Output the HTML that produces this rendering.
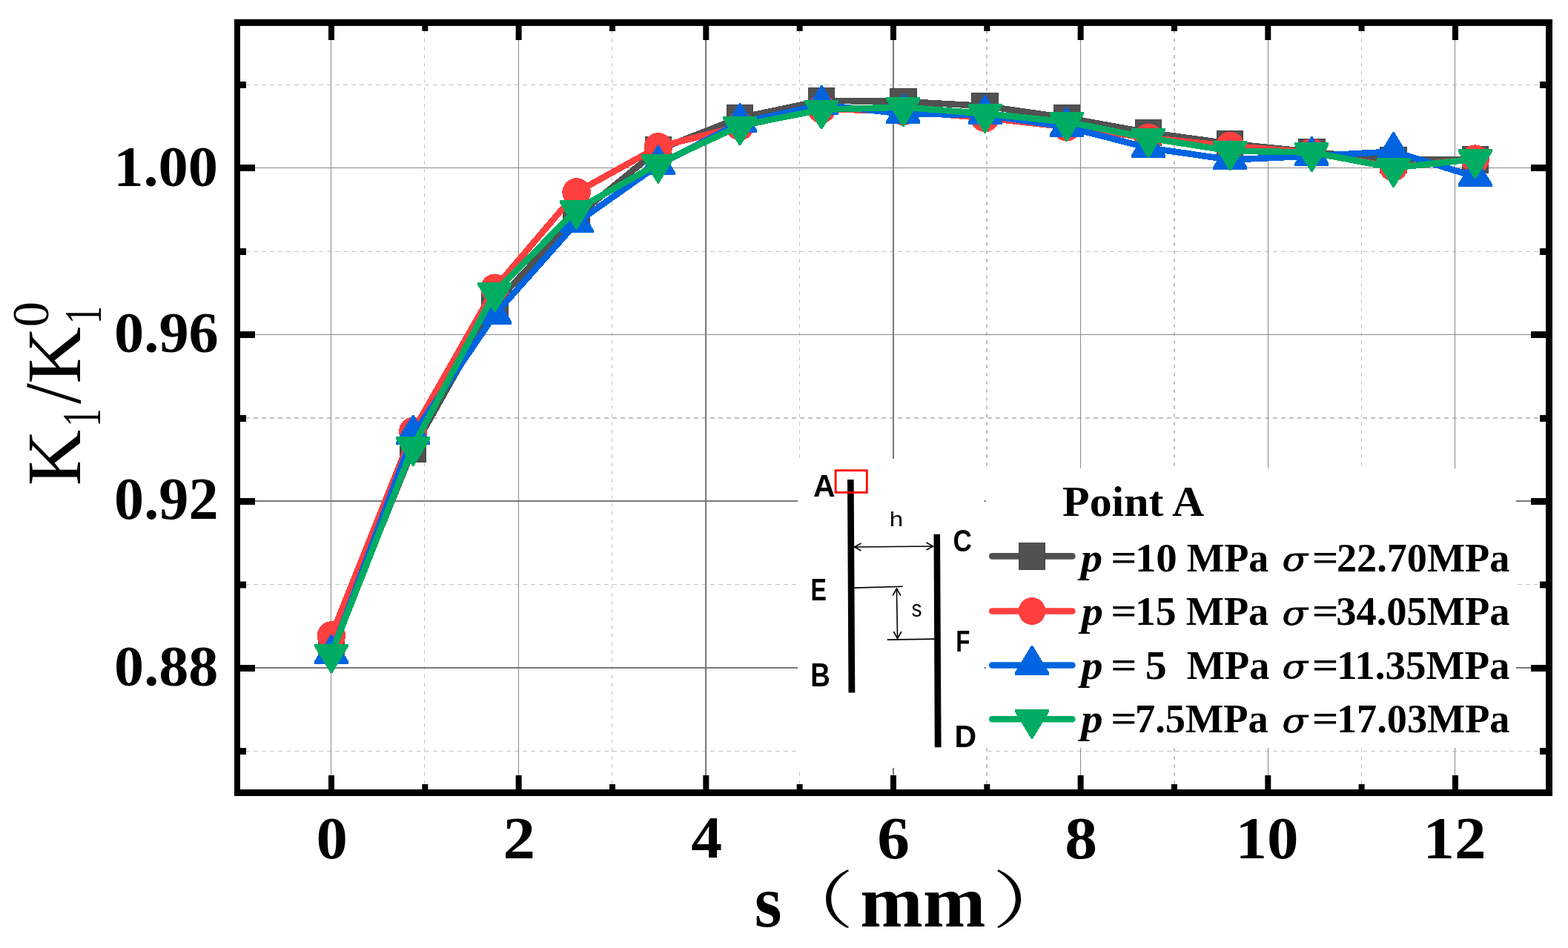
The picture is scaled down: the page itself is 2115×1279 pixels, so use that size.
<!DOCTYPE html>
<html><head><meta charset="utf-8"><title>K1/K1^0 vs s</title>
<style>html,body{margin:0;padding:0;background:#fff;overflow:hidden}svg{display:block}</style>
</head><body>
<svg width="2115" height="1279" viewBox="0 0 2115 1279">
<rect width="2115" height="1279" fill="#fff"/>
<line x1="572.5" y1="30.15" x2="572.5" y2="1065" stroke="#c0c0c0" stroke-width="1" stroke-dasharray="4.7 6.3"/>
<line x1="825.5" y1="30.15" x2="825.5" y2="1065" stroke="#c0c0c0" stroke-width="1" stroke-dasharray="4.7 6.3"/>
<line x1="1078.5" y1="30.15" x2="1078.5" y2="1065" stroke="#c0c0c0" stroke-width="1" stroke-dasharray="4.7 6.3"/>
<line x1="1331" y1="30.15" x2="1331" y2="1065" stroke="#c0c0c0" stroke-width="2" stroke-dasharray="4.7 6.3"/>
<line x1="1584" y1="30.15" x2="1584" y2="1065" stroke="#c0c0c0" stroke-width="2" stroke-dasharray="4.7 6.3"/>
<line x1="1836.5" y1="30.15" x2="1836.5" y2="1065" stroke="#c0c0c0" stroke-width="1" stroke-dasharray="4.7 6.3"/>
<line x1="320.1" y1="114.5" x2="2085" y2="114.5" stroke="#c0c0c0" stroke-width="1" stroke-dasharray="5.8 5.2"/>
<line x1="320.1" y1="339.5" x2="2085" y2="339.5" stroke="#c0c0c0" stroke-width="1" stroke-dasharray="5.8 5.2"/>
<line x1="320.1" y1="564" x2="2085" y2="564" stroke="#c0c0c0" stroke-width="2" stroke-dasharray="5.8 5.2"/>
<line x1="320.1" y1="788.5" x2="2085" y2="788.5" stroke="#c0c0c0" stroke-width="1" stroke-dasharray="5.8 5.2"/>
<line x1="320.1" y1="1013.5" x2="2085" y2="1013.5" stroke="#c0c0c0" stroke-width="1" stroke-dasharray="5.8 5.2"/>
<line x1="446.5" y1="35" x2="446.5" y2="1065" stroke="#888" stroke-width="1"/>
<line x1="699.5" y1="35" x2="699.5" y2="1065" stroke="#888" stroke-width="1"/>
<line x1="952" y1="35" x2="952" y2="1065" stroke="#787878" stroke-width="2"/>
<line x1="1205" y1="35" x2="1205" y2="1065" stroke="#787878" stroke-width="2"/>
<line x1="1457.5" y1="35" x2="1457.5" y2="1065" stroke="#888" stroke-width="1"/>
<line x1="1710.5" y1="35" x2="1710.5" y2="1065" stroke="#888" stroke-width="1"/>
<line x1="1962.5" y1="35" x2="1962.5" y2="1065" stroke="#888" stroke-width="1"/>
<line x1="324" y1="226.5" x2="2085" y2="226.5" stroke="#888" stroke-width="1"/>
<line x1="324" y1="451.5" x2="2085" y2="451.5" stroke="#888" stroke-width="1"/>
<line x1="324" y1="676" x2="2085" y2="676" stroke="#787878" stroke-width="2"/>
<line x1="324" y1="901" x2="2085" y2="901" stroke="#787878" stroke-width="2"/>
<polyline points="447.00,877.00 557.20,605.80 667.40,410.00 777.60,292.00 887.80,202.00 998.00,158.90 1108.20,135.75 1218.40,137.00 1328.60,143.00 1438.80,158.90 1549.00,178.90 1659.20,193.80 1769.40,204.90 1879.60,215.75 1989.80,215.40" fill="none" stroke="#515151" stroke-width="8.6" stroke-linejoin="round" stroke-linecap="round" shape-rendering="crispEdges"/>
<rect x="429.25" y="859.25" width="35.50" height="35.50" fill="#515151" stroke="#454545" stroke-width="1" shape-rendering="crispEdges"/>
<rect x="539.45" y="588.05" width="35.50" height="35.50" fill="#515151" stroke="#454545" stroke-width="1" shape-rendering="crispEdges"/>
<rect x="649.65" y="392.25" width="35.50" height="35.50" fill="#515151" stroke="#454545" stroke-width="1" shape-rendering="crispEdges"/>
<rect x="759.85" y="274.25" width="35.50" height="35.50" fill="#515151" stroke="#454545" stroke-width="1" shape-rendering="crispEdges"/>
<rect x="870.05" y="184.25" width="35.50" height="35.50" fill="#515151" stroke="#454545" stroke-width="1" shape-rendering="crispEdges"/>
<rect x="980.25" y="141.15" width="35.50" height="35.50" fill="#515151" stroke="#454545" stroke-width="1" shape-rendering="crispEdges"/>
<rect x="1090.45" y="118.00" width="35.50" height="35.50" fill="#515151" stroke="#454545" stroke-width="1" shape-rendering="crispEdges"/>
<rect x="1200.65" y="119.25" width="35.50" height="35.50" fill="#515151" stroke="#454545" stroke-width="1" shape-rendering="crispEdges"/>
<rect x="1310.85" y="125.25" width="35.50" height="35.50" fill="#515151" stroke="#454545" stroke-width="1" shape-rendering="crispEdges"/>
<rect x="1421.05" y="141.15" width="35.50" height="35.50" fill="#515151" stroke="#454545" stroke-width="1" shape-rendering="crispEdges"/>
<rect x="1531.25" y="161.15" width="35.50" height="35.50" fill="#515151" stroke="#454545" stroke-width="1" shape-rendering="crispEdges"/>
<rect x="1641.45" y="176.05" width="35.50" height="35.50" fill="#515151" stroke="#454545" stroke-width="1" shape-rendering="crispEdges"/>
<rect x="1751.65" y="187.15" width="35.50" height="35.50" fill="#515151" stroke="#454545" stroke-width="1" shape-rendering="crispEdges"/>
<rect x="1861.85" y="198.00" width="35.50" height="35.50" fill="#515151" stroke="#454545" stroke-width="1" shape-rendering="crispEdges"/>
<rect x="1972.05" y="197.65" width="35.50" height="35.50" fill="#515151" stroke="#454545" stroke-width="1" shape-rendering="crispEdges"/>
<polyline points="447.00,857.50 557.20,582.00 667.40,388.70 777.60,259.40 887.80,198.30 998.00,170.20 1108.20,147.00 1218.40,150.00 1328.60,159.00 1438.80,171.30 1549.00,185.90 1659.20,196.90 1769.40,205.80 1879.60,225.50 1989.80,214.60" fill="none" stroke="#fe3f3f" stroke-width="8.6" stroke-linejoin="round" stroke-linecap="round" shape-rendering="crispEdges"/>
<circle cx="447.00" cy="857.50" r="19.25" fill="#fe3f3f" shape-rendering="crispEdges"/>
<circle cx="557.20" cy="582.00" r="19.25" fill="#fe3f3f" shape-rendering="crispEdges"/>
<circle cx="667.40" cy="388.70" r="19.25" fill="#fe3f3f" shape-rendering="crispEdges"/>
<circle cx="777.60" cy="259.40" r="19.25" fill="#fe3f3f" shape-rendering="crispEdges"/>
<circle cx="887.80" cy="198.30" r="19.25" fill="#fe3f3f" shape-rendering="crispEdges"/>
<circle cx="998.00" cy="170.20" r="19.25" fill="#fe3f3f" shape-rendering="crispEdges"/>
<circle cx="1108.20" cy="147.00" r="19.25" fill="#fe3f3f" shape-rendering="crispEdges"/>
<circle cx="1218.40" cy="150.00" r="19.25" fill="#fe3f3f" shape-rendering="crispEdges"/>
<circle cx="1328.60" cy="159.00" r="19.25" fill="#fe3f3f" shape-rendering="crispEdges"/>
<circle cx="1438.80" cy="171.30" r="19.25" fill="#fe3f3f" shape-rendering="crispEdges"/>
<circle cx="1549.00" cy="185.90" r="19.25" fill="#fe3f3f" shape-rendering="crispEdges"/>
<circle cx="1659.20" cy="196.90" r="19.25" fill="#fe3f3f" shape-rendering="crispEdges"/>
<circle cx="1769.40" cy="205.80" r="19.25" fill="#fe3f3f" shape-rendering="crispEdges"/>
<circle cx="1879.60" cy="225.50" r="19.25" fill="#fe3f3f" shape-rendering="crispEdges"/>
<circle cx="1989.80" cy="214.60" r="19.25" fill="#fe3f3f" shape-rendering="crispEdges"/>
<polyline points="447.00,882.50 557.20,586.40 667.40,424.50 777.60,300.50 887.80,222.60 998.00,165.60 1108.20,141.50 1218.40,153.50 1328.60,155.00 1438.80,171.30 1549.00,199.50 1659.20,215.50 1769.40,210.50 1879.60,204.50 1989.80,238.50" fill="none" stroke="#0064e0" stroke-width="8.6" stroke-linejoin="round" stroke-linecap="round" shape-rendering="crispEdges"/>
<polygon points="446.00,855.90 448.00,855.90 470.00,892.20 470.00,895.80 424.00,895.80 424.00,892.20" fill="#0064e0" shape-rendering="crispEdges"/>
<polygon points="556.20,559.80 558.20,559.80 580.20,596.10 580.20,599.70 534.20,599.70 534.20,596.10" fill="#0064e0" shape-rendering="crispEdges"/>
<polygon points="666.40,397.90 668.40,397.90 690.40,434.20 690.40,437.80 644.40,437.80 644.40,434.20" fill="#0064e0" shape-rendering="crispEdges"/>
<polygon points="776.60,273.90 778.60,273.90 800.60,310.20 800.60,313.80 754.60,313.80 754.60,310.20" fill="#0064e0" shape-rendering="crispEdges"/>
<polygon points="886.80,196.00 888.80,196.00 910.80,232.30 910.80,235.90 864.80,235.90 864.80,232.30" fill="#0064e0" shape-rendering="crispEdges"/>
<polygon points="997.00,139.00 999.00,139.00 1021.00,175.30 1021.00,178.90 975.00,178.90 975.00,175.30" fill="#0064e0" shape-rendering="crispEdges"/>
<polygon points="1107.20,114.90 1109.20,114.90 1131.20,151.20 1131.20,154.80 1085.20,154.80 1085.20,151.20" fill="#0064e0" shape-rendering="crispEdges"/>
<polygon points="1217.40,126.90 1219.40,126.90 1241.40,163.20 1241.40,166.80 1195.40,166.80 1195.40,163.20" fill="#0064e0" shape-rendering="crispEdges"/>
<polygon points="1327.60,128.40 1329.60,128.40 1351.60,164.70 1351.60,168.30 1305.60,168.30 1305.60,164.70" fill="#0064e0" shape-rendering="crispEdges"/>
<polygon points="1437.80,144.70 1439.80,144.70 1461.80,181.00 1461.80,184.60 1415.80,184.60 1415.80,181.00" fill="#0064e0" shape-rendering="crispEdges"/>
<polygon points="1548.00,172.90 1550.00,172.90 1572.00,209.20 1572.00,212.80 1526.00,212.80 1526.00,209.20" fill="#0064e0" shape-rendering="crispEdges"/>
<polygon points="1658.20,188.90 1660.20,188.90 1682.20,225.20 1682.20,228.80 1636.20,228.80 1636.20,225.20" fill="#0064e0" shape-rendering="crispEdges"/>
<polygon points="1768.40,183.90 1770.40,183.90 1792.40,220.20 1792.40,223.80 1746.40,223.80 1746.40,220.20" fill="#0064e0" shape-rendering="crispEdges"/>
<polygon points="1878.60,177.90 1880.60,177.90 1902.60,214.20 1902.60,217.80 1856.60,217.80 1856.60,214.20" fill="#0064e0" shape-rendering="crispEdges"/>
<polygon points="1988.80,211.90 1990.80,211.90 2012.80,248.20 2012.80,251.80 1966.80,251.80 1966.80,248.20" fill="#0064e0" shape-rendering="crispEdges"/>
<polyline points="447.00,881.80 557.20,602.50 667.40,394.70 777.60,282.80 887.80,220.90 998.00,169.80 1108.20,147.80 1218.40,144.60 1328.60,153.30 1438.80,164.40 1549.00,186.20 1659.20,203.50 1769.40,205.60 1879.60,226.40 1989.80,214.70" fill="none" stroke="#00ac62" stroke-width="8.6" stroke-linejoin="round" stroke-linecap="round" shape-rendering="crispEdges"/>
<polygon points="446.00,908.40 448.00,908.40 470.00,872.10 470.00,868.50 424.00,868.50 424.00,872.10" fill="#00ac62" shape-rendering="crispEdges"/>
<polygon points="556.20,629.10 558.20,629.10 580.20,592.80 580.20,589.20 534.20,589.20 534.20,592.80" fill="#00ac62" shape-rendering="crispEdges"/>
<polygon points="666.40,421.30 668.40,421.30 690.40,385.00 690.40,381.40 644.40,381.40 644.40,385.00" fill="#00ac62" shape-rendering="crispEdges"/>
<polygon points="776.60,309.40 778.60,309.40 800.60,273.10 800.60,269.50 754.60,269.50 754.60,273.10" fill="#00ac62" shape-rendering="crispEdges"/>
<polygon points="886.80,247.50 888.80,247.50 910.80,211.20 910.80,207.60 864.80,207.60 864.80,211.20" fill="#00ac62" shape-rendering="crispEdges"/>
<polygon points="997.00,196.40 999.00,196.40 1021.00,160.10 1021.00,156.50 975.00,156.50 975.00,160.10" fill="#00ac62" shape-rendering="crispEdges"/>
<polygon points="1107.20,174.40 1109.20,174.40 1131.20,138.10 1131.20,134.50 1085.20,134.50 1085.20,138.10" fill="#00ac62" shape-rendering="crispEdges"/>
<polygon points="1217.40,171.20 1219.40,171.20 1241.40,134.90 1241.40,131.30 1195.40,131.30 1195.40,134.90" fill="#00ac62" shape-rendering="crispEdges"/>
<polygon points="1327.60,179.90 1329.60,179.90 1351.60,143.60 1351.60,140.00 1305.60,140.00 1305.60,143.60" fill="#00ac62" shape-rendering="crispEdges"/>
<polygon points="1437.80,191.00 1439.80,191.00 1461.80,154.70 1461.80,151.10 1415.80,151.10 1415.80,154.70" fill="#00ac62" shape-rendering="crispEdges"/>
<polygon points="1548.00,212.80 1550.00,212.80 1572.00,176.50 1572.00,172.90 1526.00,172.90 1526.00,176.50" fill="#00ac62" shape-rendering="crispEdges"/>
<polygon points="1658.20,230.10 1660.20,230.10 1682.20,193.80 1682.20,190.20 1636.20,190.20 1636.20,193.80" fill="#00ac62" shape-rendering="crispEdges"/>
<polygon points="1768.40,232.20 1770.40,232.20 1792.40,195.90 1792.40,192.30 1746.40,192.30 1746.40,195.90" fill="#00ac62" shape-rendering="crispEdges"/>
<polygon points="1878.60,253.00 1880.60,253.00 1902.60,216.70 1902.60,213.10 1856.60,213.10 1856.60,216.70" fill="#00ac62" shape-rendering="crispEdges"/>
<polygon points="1988.80,241.30 1990.80,241.30 2012.80,205.00 2012.80,201.40 1966.80,201.40 1966.80,205.00" fill="#00ac62" shape-rendering="crispEdges"/>
<rect x="1076" y="619" width="251.5" height="417" fill="#fff"/>
<rect x="1330" y="632" width="715" height="377" fill="#fff"/>
<rect x="316" y="26" width="1778" height="9" fill="#000"/>
<rect x="316" y="1065" width="1778" height="9" fill="#000"/>
<rect x="316" y="26" width="8" height="1048" fill="#000"/>
<rect x="2085" y="26" width="9" height="1048" fill="#000"/>
<rect x="443.00" y="1046" width="8" height="19" fill="#000"/>
<rect x="443.00" y="35" width="8" height="19" fill="#000"/>
<rect x="569.33" y="1058" width="8" height="7" fill="#000"/>
<rect x="569.33" y="35" width="8" height="7" fill="#000"/>
<rect x="695.66" y="1046" width="8" height="19" fill="#000"/>
<rect x="695.66" y="35" width="8" height="19" fill="#000"/>
<rect x="821.99" y="1058" width="8" height="7" fill="#000"/>
<rect x="821.99" y="35" width="8" height="7" fill="#000"/>
<rect x="948.32" y="1046" width="8" height="19" fill="#000"/>
<rect x="948.32" y="35" width="8" height="19" fill="#000"/>
<rect x="1074.65" y="1058" width="8" height="7" fill="#000"/>
<rect x="1074.65" y="35" width="8" height="7" fill="#000"/>
<rect x="1200.98" y="1046" width="8" height="19" fill="#000"/>
<rect x="1200.98" y="35" width="8" height="19" fill="#000"/>
<rect x="1327.31" y="1058" width="8" height="7" fill="#000"/>
<rect x="1327.31" y="35" width="8" height="7" fill="#000"/>
<rect x="1453.64" y="1046" width="8" height="19" fill="#000"/>
<rect x="1453.64" y="35" width="8" height="19" fill="#000"/>
<rect x="1579.97" y="1058" width="8" height="7" fill="#000"/>
<rect x="1579.97" y="35" width="8" height="7" fill="#000"/>
<rect x="1706.30" y="1046" width="8" height="19" fill="#000"/>
<rect x="1706.30" y="35" width="8" height="19" fill="#000"/>
<rect x="1832.63" y="1058" width="8" height="7" fill="#000"/>
<rect x="1832.63" y="35" width="8" height="7" fill="#000"/>
<rect x="1958.96" y="1046" width="8" height="19" fill="#000"/>
<rect x="1958.96" y="35" width="8" height="19" fill="#000"/>
<rect x="324" y="110.00" width="8" height="9" fill="#000"/>
<rect x="2077" y="110.00" width="8" height="9" fill="#000"/>
<rect x="324" y="222.00" width="20" height="9" fill="#000"/>
<rect x="2065" y="222.00" width="20" height="9" fill="#000"/>
<rect x="324" y="335.00" width="8" height="9" fill="#000"/>
<rect x="2077" y="335.00" width="8" height="9" fill="#000"/>
<rect x="324" y="447.00" width="20" height="9" fill="#000"/>
<rect x="2065" y="447.00" width="20" height="9" fill="#000"/>
<rect x="324" y="560.00" width="8" height="9" fill="#000"/>
<rect x="2077" y="560.00" width="8" height="9" fill="#000"/>
<rect x="324" y="672.00" width="20" height="9" fill="#000"/>
<rect x="2065" y="672.00" width="20" height="9" fill="#000"/>
<rect x="324" y="784.50" width="8" height="9" fill="#000"/>
<rect x="2077" y="784.50" width="8" height="9" fill="#000"/>
<rect x="324" y="897.00" width="20" height="9" fill="#000"/>
<rect x="2065" y="897.00" width="20" height="9" fill="#000"/>
<rect x="324" y="1009.00" width="8" height="9" fill="#000"/>
<rect x="2077" y="1009.00" width="8" height="9" fill="#000"/>
<line x1="1338.2" y1="750.4" x2="1446.4" y2="750.4" stroke="#515151" stroke-width="8.6" stroke-linecap="round"/>
<rect x="1374.25" y="732.65" width="35.50" height="35.50" fill="#515151" stroke="#454545" stroke-width="1" shape-rendering="crispEdges"/>
<line x1="1338.2" y1="824.5" x2="1446.4" y2="824.5" stroke="#fe3f3f" stroke-width="8.6" stroke-linecap="round"/>
<circle cx="1392.00" cy="824.50" r="18.40" fill="#fe3f3f" shape-rendering="crispEdges"/>
<line x1="1338.2" y1="897.5" x2="1446.4" y2="897.5" stroke="#0064e0" stroke-width="8.6" stroke-linecap="round"/>
<polygon points="1391.00,870.90 1393.00,870.90 1415.00,907.20 1415.00,910.80 1369.00,910.80 1369.00,907.20" fill="#0064e0" shape-rendering="crispEdges"/>
<line x1="1338.2" y1="970.3" x2="1446.4" y2="970.3" stroke="#00ac62" stroke-width="8.6" stroke-linecap="round"/>
<polygon points="1391.00,996.90 1393.00,996.90 1415.00,960.60 1415.00,957.00 1369.00,957.00 1369.00,960.60" fill="#00ac62" shape-rendering="crispEdges"/>
<polygon points="1143,646.9 1151.6,646.9 1153.3,934.4 1144.5,934.4" fill="#000"/>
<polygon points="1259.5,720.8 1268,720.8 1269.6,1008.3 1260.8,1008.3" fill="#000"/>
<rect x="1127.1" y="634.7" width="42.2" height="29.7" fill="none" stroke="#ff0000" stroke-width="2.8"/>
<line x1="1152" y1="738" x2="1259" y2="737" stroke="#000" stroke-width="1.6"/>
<polyline points="1161.5,733 1152.5,738 1161.5,743" fill="none" stroke="#000" stroke-width="1.6"/>
<polyline points="1249.5,732 1258.5,737 1249.5,742" fill="none" stroke="#000" stroke-width="1.6"/>
<line x1="1152.3" y1="793.1" x2="1217.8" y2="791.3" stroke="#000" stroke-width="1.6"/>
<line x1="1196.7" y1="863.1" x2="1260.2" y2="862.1" stroke="#000" stroke-width="1.6"/>
<line x1="1209.4" y1="794" x2="1210.6" y2="861.5" stroke="#000" stroke-width="1.6"/>
<polyline points="1204.2,803.5 1209.5,794.2 1214.8,803.5" fill="none" stroke="#000" stroke-width="1.6"/>
<polyline points="1205.3,852 1210.6,861.3 1215.9,852" fill="none" stroke="#000" stroke-width="1.6"/>
<text transform="matrix(1.0061 0 0 0.9767 153.26 251.11)" font-family="'Liberation Serif', 'Times New Roman', serif" font-size="80" font-weight="bold" font-style="normal" fill="#000">1.00</text>
<text transform="matrix(1.0052 0 0 0.9891 154.08 475.41)" font-family="'Liberation Serif', 'Times New Roman', serif" font-size="80" font-weight="bold" font-style="normal" fill="#000">0.96</text>
<text transform="matrix(1.0030 0 0 1.0023 154.09 700.00)" font-family="'Liberation Serif', 'Times New Roman', serif" font-size="80" font-weight="bold" font-style="normal" fill="#000">0.92</text>
<text transform="matrix(1.0023 0 0 0.9822 154.09 925.02)" font-family="'Liberation Serif', 'Times New Roman', serif" font-size="80" font-weight="bold" font-style="normal" fill="#000">0.88</text>
<text transform="matrix(1.0596 0 0 0.9946 426.61 1157.71)" font-family="'Liberation Serif', 'Times New Roman', serif" font-size="80" font-weight="bold" font-style="normal" fill="#000">0</text>
<text transform="matrix(1.0891 0 0 0.9946 678.50 1157.71)" font-family="'Liberation Serif', 'Times New Roman', serif" font-size="80" font-weight="bold" font-style="normal" fill="#000">2</text>
<text transform="matrix(1.0452 0 0 0.9946 932.35 1156.71)" font-family="'Liberation Serif', 'Times New Roman', serif" font-size="80" font-weight="bold" font-style="normal" fill="#000">4</text>
<text transform="matrix(1.0942 0 0 0.9946 1183.34 1157.71)" font-family="'Liberation Serif', 'Times New Roman', serif" font-size="80" font-weight="bold" font-style="normal" fill="#000">6</text>
<text transform="matrix(1.0942 0 0 0.9946 1436.33 1157.71)" font-family="'Liberation Serif', 'Times New Roman', serif" font-size="80" font-weight="bold" font-style="normal" fill="#000">8</text>
<text transform="matrix(1.0640 0 0 0.9946 1666.54 1157.71)" font-family="'Liberation Serif', 'Times New Roman', serif" font-size="80" font-weight="bold" font-style="normal" fill="#000">10</text>
<text transform="matrix(1.0638 0 0 0.9946 1919.53 1157.71)" font-family="'Liberation Serif', 'Times New Roman', serif" font-size="80" font-weight="bold" font-style="normal" fill="#000">12</text>
<text transform="matrix(0.9452 0 0 1.0022 1017.83 1249.90)" font-family="'Liberation Serif', 'Times New Roman', serif" font-size="100" font-weight="bold" font-style="normal" fill="#000">s</text>
<text transform="matrix(1.2084 0 0 0.9346 1043.31 1245.43)" font-family="'Noto Serif CJK SC', serif" font-size="90" font-weight="normal" font-style="normal" fill="#000">（</text>
<text transform="matrix(1.0147 0 0 1.0022 1160.37 1249.90)" font-family="'Liberation Serif', 'Times New Roman', serif" font-size="100" font-weight="bold" font-style="normal" fill="#000">mm</text>
<text transform="matrix(1.2468 0 0 0.9346 1338.02 1245.43)" font-family="'Noto Serif CJK SC', serif" font-size="90" font-weight="normal" font-style="normal" fill="#000">）</text>
<text transform="matrix(0.9979 0 0 0.9530 1433.10 696.05)" font-family="'Liberation Serif', 'Times New Roman', serif" font-size="60" font-weight="bold" font-style="normal" fill="#000">Point A</text>
<text transform="matrix(1.0900 0 0 1.0000 1457.86 770.50)" font-family="'Liberation Serif', 'Times New Roman', serif" font-size="54" font-weight="bold" font-style="italic" fill="#000">p</text>
<text transform="matrix(1.1465 0 0 0.9333 1498.30 768.53)" font-family="'Liberation Serif', 'Times New Roman', serif" font-size="54" font-weight="bold" font-style="normal" fill="#000">=</text>
<text transform="matrix(1.0542 0 0 1.0000 1530.88 770.50)" font-family="'Liberation Serif', 'Times New Roman', serif" font-size="54" font-weight="bold" font-style="normal" fill="#000">10</text>
<text transform="matrix(0.9954 0 0 1.0000 1600.80 770.50)" font-family="'Liberation Serif', 'Times New Roman', serif" font-size="54" font-weight="bold" font-style="normal" fill="#000">MPa</text>
<text transform="matrix(1.2615 0 0 1.1425 1729.51 769.98)" font-family="'DejaVu Serif', serif" font-size="40" font-weight="normal" font-style="italic" fill="#000" stroke="#000" stroke-width="0.71">σ</text>
<text transform="matrix(1.1654 0 0 0.9333 1769.77 768.53)" font-family="'Liberation Serif', 'Times New Roman', serif" font-size="54" font-weight="bold" font-style="normal" fill="#000">=</text>
<text transform="matrix(1.0048 0 0 1.0000 1802.89 770.50)" font-family="'Liberation Serif', 'Times New Roman', serif" font-size="54" font-weight="bold" font-style="normal" fill="#000">22.70MPa</text>
<text transform="matrix(1.0833 0 0 1.0000 1458.83 843.40)" font-family="'Liberation Serif', 'Times New Roman', serif" font-size="54" font-weight="bold" font-style="italic" fill="#000">p</text>
<text transform="matrix(1.1465 0 0 0.9333 1498.30 841.23)" font-family="'Liberation Serif', 'Times New Roman', serif" font-size="54" font-weight="bold" font-style="normal" fill="#000">=</text>
<text transform="matrix(1.0312 0 0 1.0000 1530.97 843.40)" font-family="'Liberation Serif', 'Times New Roman', serif" font-size="54" font-weight="bold" font-style="normal" fill="#000">15</text>
<text transform="matrix(1.0055 0 0 1.0000 1599.69 843.40)" font-family="'Liberation Serif', 'Times New Roman', serif" font-size="54" font-weight="bold" font-style="normal" fill="#000">MPa</text>
<text transform="matrix(1.2615 0 0 1.1425 1729.51 842.62)" font-family="'DejaVu Serif', serif" font-size="40" font-weight="normal" font-style="italic" fill="#000" stroke="#000" stroke-width="0.71">σ</text>
<text transform="matrix(1.1654 0 0 0.9333 1769.77 841.23)" font-family="'Liberation Serif', 'Times New Roman', serif" font-size="54" font-weight="bold" font-style="normal" fill="#000">=</text>
<text transform="matrix(1.0074 0 0 1.0000 1802.29 843.40)" font-family="'Liberation Serif', 'Times New Roman', serif" font-size="54" font-weight="bold" font-style="normal" fill="#000">34.05MPa</text>
<text transform="matrix(1.0900 0 0 1.0000 1458.36 916.20)" font-family="'Liberation Serif', 'Times New Roman', serif" font-size="54" font-weight="bold" font-style="italic" fill="#000">p</text>
<text transform="matrix(1.1465 0 0 0.9333 1498.30 913.63)" font-family="'Liberation Serif', 'Times New Roman', serif" font-size="54" font-weight="bold" font-style="normal" fill="#000">=</text>
<text transform="matrix(1.0739 0 0 1.0000 1544.85 916.20)" font-family="'Liberation Serif', 'Times New Roman', serif" font-size="54" font-weight="bold" font-style="normal" fill="#000">5</text>
<text transform="matrix(1.0055 0 0 1.0000 1600.79 916.20)" font-family="'Liberation Serif', 'Times New Roman', serif" font-size="54" font-weight="bold" font-style="normal" fill="#000">MPa</text>
<text transform="matrix(1.2615 0 0 1.1425 1729.51 915.03)" font-family="'DejaVu Serif', serif" font-size="40" font-weight="normal" font-style="italic" fill="#000" stroke="#000" stroke-width="0.71">σ</text>
<text transform="matrix(1.1654 0 0 0.9333 1769.77 913.63)" font-family="'Liberation Serif', 'Times New Roman', serif" font-size="54" font-weight="bold" font-style="normal" fill="#000">=</text>
<text transform="matrix(1.0178 0 0 1.0000 1802.93 916.20)" font-family="'Liberation Serif', 'Times New Roman', serif" font-size="54" font-weight="bold" font-style="normal" fill="#000">11.35MPa</text>
<text transform="matrix(1.0900 0 0 1.0000 1458.36 988.40)" font-family="'Liberation Serif', 'Times New Roman', serif" font-size="54" font-weight="bold" font-style="italic" fill="#000">p</text>
<text transform="matrix(1.1465 0 0 0.9333 1498.30 986.23)" font-family="'Liberation Serif', 'Times New Roman', serif" font-size="54" font-weight="bold" font-style="normal" fill="#000">=</text>
<text transform="matrix(1.0074 0 0 1.0000 1530.98 988.40)" font-family="'Liberation Serif', 'Times New Roman', serif" font-size="54" font-weight="bold" font-style="normal" fill="#000">7.5MPa</text>
<text transform="matrix(1.2615 0 0 1.1425 1729.51 987.62)" font-family="'DejaVu Serif', serif" font-size="40" font-weight="normal" font-style="italic" fill="#000" stroke="#000" stroke-width="0.71">σ</text>
<text transform="matrix(1.1654 0 0 0.9333 1769.77 986.23)" font-family="'Liberation Serif', 'Times New Roman', serif" font-size="54" font-weight="bold" font-style="normal" fill="#000">=</text>
<text transform="matrix(1.0044 0 0 1.0000 1802.98 988.40)" font-family="'Liberation Serif', 'Times New Roman', serif" font-size="54" font-weight="bold" font-style="normal" fill="#000">17.03MPa</text>
<text transform="matrix(0.9303 0 0 0.9589 1097.07 670.39)" font-family="'Liberation Sans', Arial, sans-serif" font-size="44" font-weight="bold" font-style="normal" fill="#000">A</text>
<text transform="matrix(0.8004 0 0 0.9863 1285.59 743.93)" font-family="'Liberation Sans', Arial, sans-serif" font-size="44" font-weight="bold" font-style="normal" fill="#000">C</text>
<text transform="matrix(0.7286 0 0 0.9688 1093.60 809.59)" font-family="'Liberation Sans', Arial, sans-serif" font-size="44" font-weight="bold" font-style="normal" fill="#000">E</text>
<text transform="matrix(0.7133 0 0 0.9167 1289.24 879.09)" font-family="'Liberation Sans', Arial, sans-serif" font-size="44" font-weight="bold" font-style="normal" fill="#000">F</text>
<text transform="matrix(0.8337 0 0 0.9982 1093.29 925.78)" font-family="'Liberation Sans', Arial, sans-serif" font-size="44" font-weight="bold" font-style="normal" fill="#000">B</text>
<text transform="matrix(0.9337 0 0 0.9592 1287.50 1008.08)" font-family="'Liberation Sans', Arial, sans-serif" font-size="44" font-weight="bold" font-style="normal" fill="#000">D</text>
<text transform="matrix(1.1083 0 0 0.9464 1199.78 710.20)" font-family="'Liberation Sans', Arial, sans-serif" font-size="30" font-weight="normal" font-style="normal" fill="#000">h</text>
<text transform="matrix(0.9333 0 0 1.0189 1229.55 832.40)" font-family="'Liberation Sans', Arial, sans-serif" font-size="30" font-weight="normal" font-style="normal" fill="#000">s</text>
<g transform="rotate(-90)">
<text transform="matrix(1.0044 0 0 1.0061 -655.32 107.70)" font-family="'Liberation Serif', 'Times New Roman', serif" font-size="104" font-weight="normal" font-style="normal" fill="#000">K</text>
<text transform="matrix(0.6808 0 0 1.0193 -575.79 134.90)" font-family="'Liberation Serif', 'Times New Roman', serif" font-size="72" font-weight="normal" font-style="normal" fill="#000">1</text>
<text transform="matrix(0.9655 0 0 1.0415 -545.00 108.26)" font-family="'Liberation Serif', 'Times New Roman', serif" font-size="104" font-weight="normal" font-style="normal" fill="#000">/</text>
<text transform="matrix(1.0226 0 0 0.9988 -517.77 108.30)" font-family="'Liberation Serif', 'Times New Roman', serif" font-size="104" font-weight="normal" font-style="normal" fill="#000">K</text>
<text transform="matrix(0.6736 0 0 0.9839 -437.04 135.59)" font-family="'Liberation Serif', 'Times New Roman', serif" font-size="72" font-weight="normal" font-style="normal" fill="#000">1</text>
<text transform="matrix(0.9564 0 0 0.9674 -441.21 65.13)" font-family="'Liberation Serif', 'Times New Roman', serif" font-size="72" font-weight="normal" font-style="normal" fill="#000">0</text>
</g>
</svg>
</body></html>
